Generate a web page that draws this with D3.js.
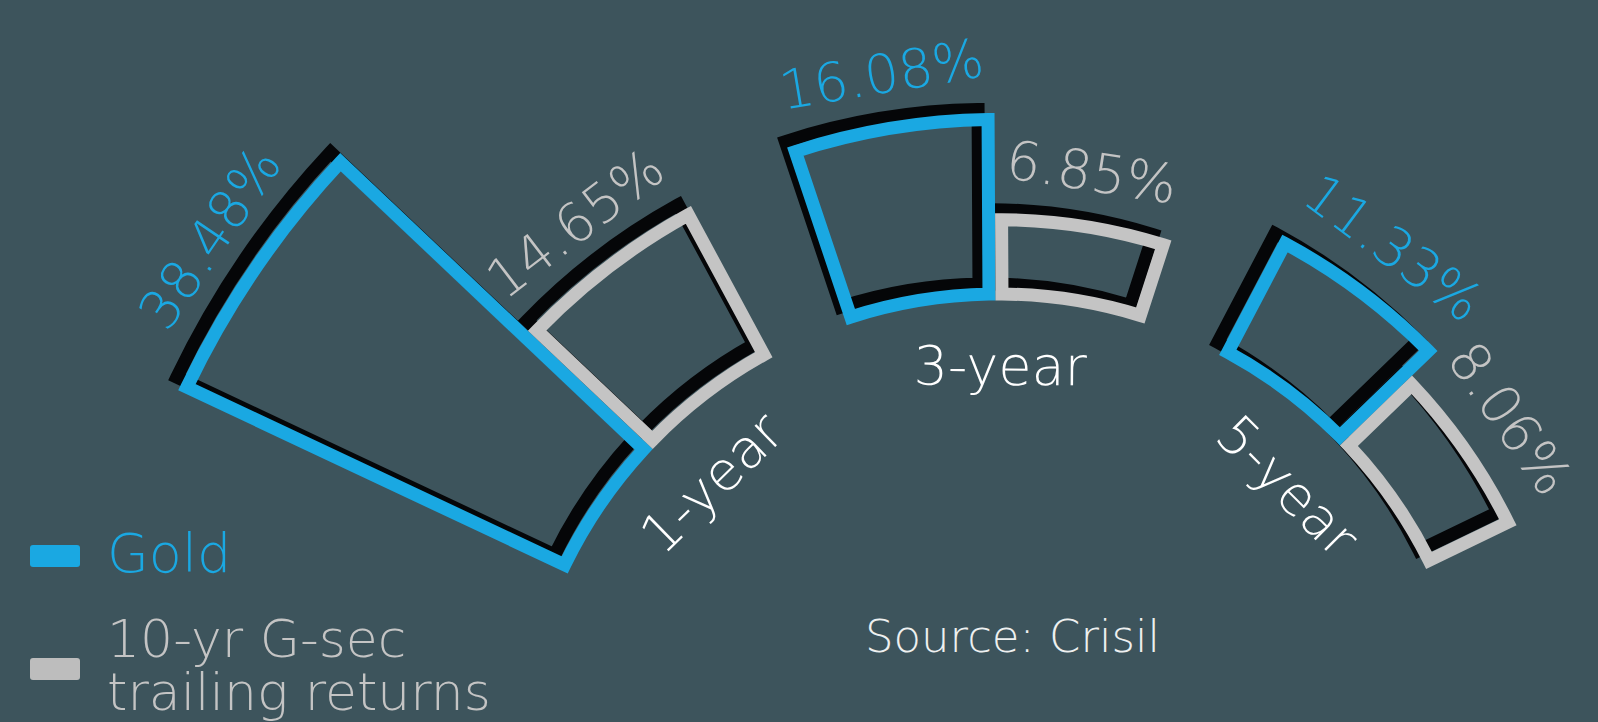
<!DOCTYPE html>
<html>
<head>
<meta charset="utf-8">
<script src="https://cdn.jsdelivr.net/npm/d3@7"></script>
<style>
  html, body { margin: 0; padding: 0; background: #3d545c; }
  svg { display: block; }
  text { font-family: "DejaVu Sans", sans-serif; font-weight: 200; }
</style>
</head>
<body>
<div id="chart"></div>
<script>
var width = 1598;
var height = 722;

// trailing returns, %
var periods = ["1-year", "3-year", "5-year"];
var seriesNames = ["Gold", "10-yr G-sec trailing returns"];
var goldReturns = [38.48, 16.08, 11.33];
var gsecReturns = [14.65, 6.85, 8.06];
var sourceNote = "Source: Crisil";

var seriesKeys = ["gold", "gsec"];
var color = { gold: "#1aa8e2", gsec: "#c4c4c4" };

var cx = 998, cy = 776;
var sw = 13;
var deg = Math.PI / 180;

var rows = periods.map(function(p, i) {
  return { period: p, gold: goldReturns[i], gsec: gsecReturns[i] };
});

var x0 = d3.scaleBand()
  .domain(periods)
  .range([-64.8 * deg, 64.2 * deg])
  .paddingInner(0.211)
  .paddingOuter(0);

var x1 = d3.scaleBand()
  .domain(seriesKeys)
  .range([0, x0.bandwidth()]);

var r = d3.scaleLinear()
  .domain([0, 40])
  .range([482, 916]);

var arc = d3.arc()
  .innerRadius(r(0))
  .outerRadius(function(d) { return r(d.value); })
  .startAngle(function(d) { return d.a0; })
  .endAngle(function(d) { return d.a1; })
  .padAngle(0.02)
  .padRadius(sw / 0.02);

var bars = [];
rows.forEach(function(row) {
  seriesKeys.forEach(function(k) {
    var a0 = x0(row.period) + x1(k);
    bars.push({ period: row.period, key: k, value: row[k], a0: a0, a1: a0 + x1.bandwidth() });
  });
});

var svg = d3.select("#chart").append("svg")
  .attr("width", width)
  .attr("height", height);

svg.append("rect")
  .attr("width", width)
  .attr("height", height)
  .attr("fill", "#3d545c");

var g = svg.append("g")
  .attr("transform", "translate(" + cx + "," + cy + ")");

// black offset shadow under every outline
g.append("g")
  .attr("transform", "translate(-10,-10)")
  .selectAll("path")
  .data(bars)
  .enter().append("path")
    .attr("d", arc)
    .attr("fill", "none")
    .attr("stroke", "#050608")
    .attr("stroke-width", sw)
    .attr("stroke-linejoin", "miter");

g.append("g")
  .selectAll("path")
  .data(bars)
  .enter().append("path")
    .attr("d", arc)
    .attr("fill", "none")
    .attr("stroke", function(d) { return color[d.key]; })
    .attr("stroke-width", sw)
    .attr("stroke-linejoin", "miter");

function polar(a, rad) {
  return [rad * Math.sin(a), -rad * Math.cos(a)];
}

// value labels along the outer edge
g.append("g")
  .selectAll("text")
  .data(bars)
  .enter().append("text")
    .attr("transform", function(d) {
      var a = (d.a0 + d.a1) / 2;
      var p = polar(a, r(d.value) + 55);
      return "translate(" + p[0] + "," + p[1] + ") rotate(" + (a / deg) + ")";
    })
    .attr("text-anchor", "middle")
    .attr("dy", "0.35em")
    .attr("font-size", 54)
    .attr("fill", function(d) { return color[d.key]; })
    .text(function(d) { return d3.format(".2f")(d.value) + "%"; });

// period labels inside the ring, pulled slightly toward the middle
g.append("g")
  .selectAll("text")
  .data(periods)
  .enter().append("text")
    .attr("transform", function(d) {
      var a = (x0(d) + x0.bandwidth() / 2) * 0.965 + 0.6 * deg;
      var p = polar(a, 410);
      return "translate(" + p[0] + "," + p[1] + ") rotate(" + (a / deg) + ")";
    })
    .attr("text-anchor", "middle")
    .attr("dy", "0.35em")
    .attr("font-size", 54)
    .attr("fill", "#ffffff")
    .text(function(d) { return d; });

// legend
var legend = svg.append("g");
legend.append("rect")
  .attr("x", 30).attr("y", 545).attr("width", 50).attr("height", 22).attr("rx", 3)
  .attr("fill", color.gold);
legend.append("text")
  .attr("x", 107).attr("y", 572)
  .attr("font-size", 54)
  .attr("fill", color.gold)
  .text(seriesNames[0]);
legend.append("rect")
  .attr("x", 30).attr("y", 658).attr("width", 50).attr("height", 22).attr("rx", 3)
  .attr("fill", "#bdbdbd");
var gl = legend.append("text")
  .attr("x", 107).attr("y", 657)
  .attr("font-size", 52)
  .attr("fill", color.gsec);
gl.append("tspan").attr("x", 107).text("10-yr G-sec");
gl.append("tspan").attr("x", 107).attr("dy", 53).text("trailing returns");

svg.append("text")
  .attr("x", 865).attr("y", 652)
  .attr("font-size", 45)
  .attr("fill", "#eef0f0")
  .text(sourceNote);
</script>
</body>
</html>
